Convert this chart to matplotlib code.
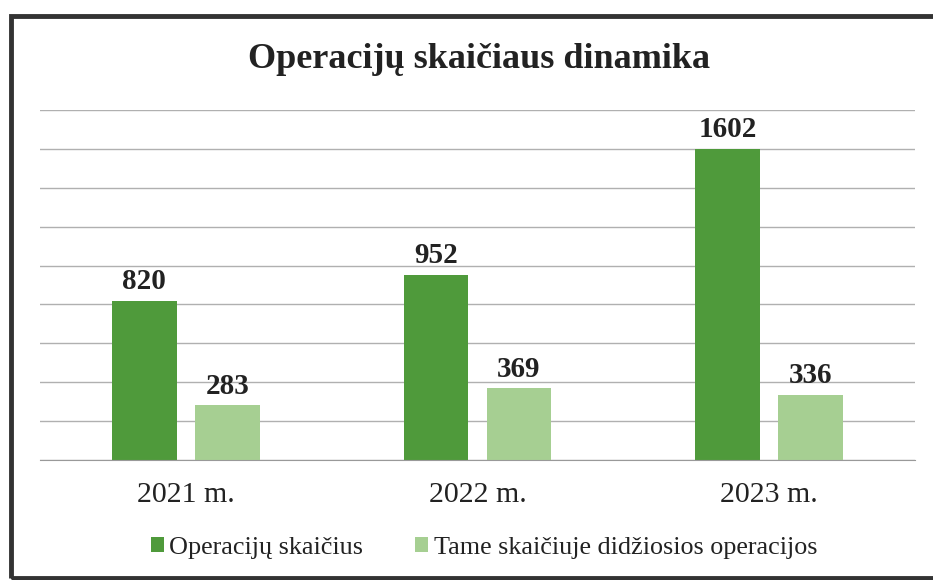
import numpy as np
import matplotlib.pyplot as plt
from matplotlib.patches import Rectangle

#Data
years= ["2021 m.", "2022 m.", "2023 m."]
operacijos= [820, 952, 1602]
didziosios= [283, 369, 336]
series_names= ["Operacijų skaičius", "Tame skaičiuje didžiosios operacijos"]

dark= "#4f9a3b"
light= "#a6cf92"

plt.rcParams['font.family']= ['Liberation Serif', 'DejaVu Serif']

fig= plt.figure(figsize=(9.33, 5.8), dpi=100)
ax= fig.add_axes([40/933, 1-460/580, 875/933, (460-110)/580])

x= np.arange(len(years))
w= 0.222
off= 0.142
b1= ax.bar(x - off, operacijos, w, color=dark, label=series_names[0])
b2= ax.bar(x + off, didziosios, w, color=light, label=series_names[1])

for bars in (b1, b2):
    for r in bars:
        ax.text(r.get_x() + r.get_width()/2, r.get_height() + 28, str(int(r.get_height())),
                ha="center", va="bottom", fontsize=21, fontweight="bold", color="#222222")

ax.set_xlim(-0.5, 2.5)
ax.set_ylim(0, 1800)
ax.set_yticks(np.arange(0, 1801, 200))
ax.yaxis.grid(True, color="#b0b0b0", linewidth=1.0)
ax.set_axisbelow(True)
ax.tick_params(axis="y", left=False, labelleft=False)
ax.tick_params(axis="x", bottom=False, labelsize=21.5, pad=12, colors="#222222")
ax.set_xticks(x)
ax.set_xticklabels(years)
for s in ["top", "right", "left"]:
    ax.spines[s].set_visible(False)
ax.spines["bottom"].set_color("#999999")

fig.text(479/933, 1-59/580, "Operacijų skaičiaus dinamika", ha="center", va="center",
         fontsize=26, fontweight="bold", color="#222222")

fig.legend(loc="center", bbox_to_anchor=(484/933, 1-548/580), ncol=2, frameon=False,
           fontsize=18.8, handlelength=0.5, handleheight=0.5, handletextpad=0.2,
           columnspacing=2.0, labelcolor="#222222")

#chart border
fig.patches.append(Rectangle((11/933, 2/580), 1.0, 1-18/580, transform=fig.transFigure,
                             fill=False, edgecolor="#333333", linewidth=3.5))

fig.savefig("out.png", dpi=100)
